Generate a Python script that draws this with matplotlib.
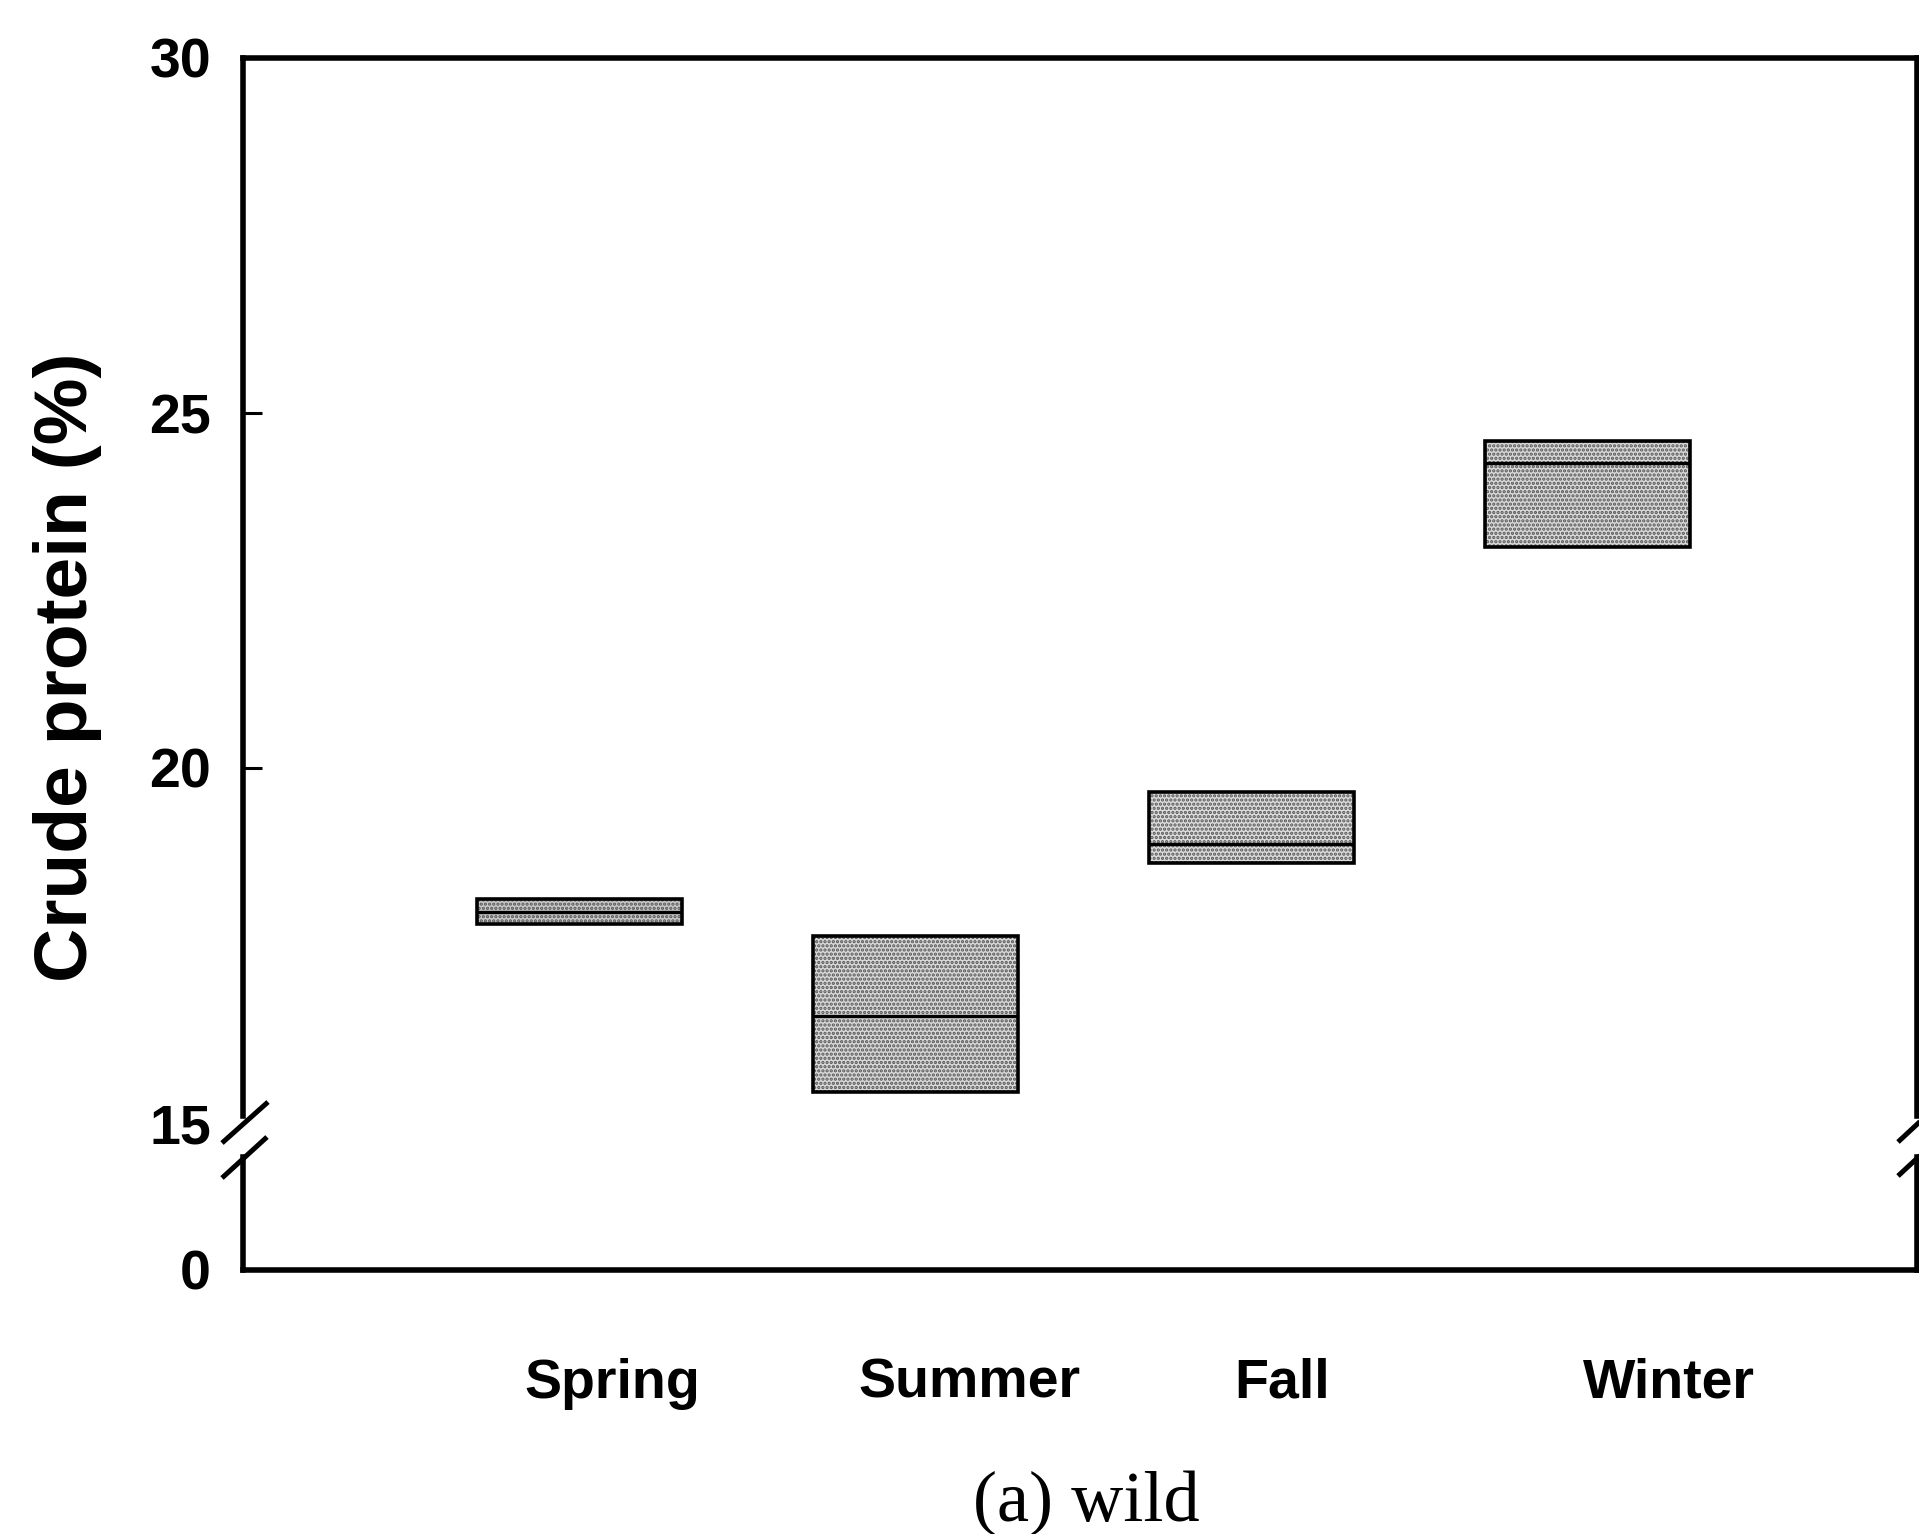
import matplotlib
matplotlib.use("Agg")
import matplotlib.pyplot as plt
from matplotlib.lines import Line2D
from matplotlib.transforms import ScaledTranslation

# ---- data ----
seasons = ["Spring", "Summer", "Fall", "Winter"]
q1 = [17.80, 15.44, 18.66, 23.11]
median = [17.97, 16.51, 18.93, 24.30]
q3 = [18.15, 17.63, 19.66, 24.61]
upper_ticks = [15, 20, 25, 30]
lower_ticks = [0]

# ---- layout ----
W, H = 1919, 1534
plt.rcParams['hatch.linewidth'] = 1.6
fig = plt.figure(figsize=(W / 100, H / 100), dpi=100)
plt.rcParams['font.family'] = ['Liberation Sans', 'DejaVu Sans']

def fx(px):
    return px / W

def fy(py):
    return 1 - py / H

left_px, right_px = 243, 1917
top_px, brk_px = 58, 1123
low_top_px, low_bot_px = 1157, 1270

ax = fig.add_axes([fx(left_px), fy(brk_px), fx(right_px - left_px), (brk_px - top_px) / H])
ax2 = fig.add_axes([fx(left_px), fy(low_bot_px), fx(right_px - left_px), (low_bot_px - low_top_px) / H])

positions = list(range(1, len(seasons) + 1))
heights = [b - a for a, b in zip(q1, q3)]
faces = ['#c8c8c8', '#d8d8d8', '#dcdcdc', '#d8d8d8']
# stippled fill
ax.bar(positions, heights, bottom=q1, width=0.61, color=faces,
       edgecolor='#555555', linewidth=0, hatch='....', zorder=2)
# outline
ax.bar(positions, heights, bottom=q1, width=0.61, fill=False,
       edgecolor='black', linewidth=2.6, zorder=3)
ax.hlines(median, [p - 0.305 for p in positions], [p + 0.305 for p in positions],
          colors='black', linewidth=2.4, zorder=4)

spine_lw = 4.0
for a in (ax, ax2):
    a.set_xlim(0, 4.98)
    for s in a.spines.values():
        s.set_linewidth(spine_lw)

ax.set_ylim(15, 30)
ax.spines['bottom'].set_visible(False)
ax.spines['left'].set_bounds(15.1, 30)
ax.spines['right'].set_bounds(15.1, 30)
ax.set_yticks(upper_ticks)
ax.set_yticklabels([str(t) for t in upper_ticks])
ax.tick_params(axis='y', direction='in', length=14, width=2.2, pad=23,
               labelsize=40)
ax.tick_params(axis='x', bottom=False, labelbottom=False)
ax.yaxis.get_major_ticks()[0].tick1line.set_visible(False)
for lab in ax.get_yticklabels():
    lab.set_fontweight('bold')

ax2.set_ylim(0, 1)
ax2.spines['top'].set_visible(False)
ax2.set_yticks(lower_ticks)
ax2.set_yticklabels([str(t) for t in lower_ticks])
ax2.tick_params(axis='y', direction='in', length=0, pad=23, labelsize=40)
ax2.set_xticks(positions)
ax2.set_xticklabels(seasons)
ax2.tick_params(axis='x', length=0, pad=63, labelsize=40)
offsets_px = [33, 54, 31, 81]
for lab, off in zip(ax2.get_xticklabels(), offsets_px):
    lab.set_fontweight('bold')
    lab.set_transform(lab.get_transform() + ScaledTranslation(off / 100, 0, fig.dpi_scale_trans))
for lab in ax2.get_yticklabels():
    lab.set_fontweight('bold')

# break marks
def seg(x0, y0, x1, y1):
    fig.add_artist(Line2D([fx(x0), fx(x1)], [fy(y0), fy(y1)], color='black',
                          linewidth=3.6, transform=fig.transFigure, solid_capstyle='butt'))

seg(222, 1143, 268, 1102)
seg(222, 1178, 267, 1137)
seg(1898, 1142, 1926, 1116)
seg(1898, 1176, 1926, 1150)

fig.text(fx(67), fy(667), "Crude protein (%)", rotation=90, ha='center', va='center',
         fontsize=54, fontweight='bold')
fig.text(fx(1086), fy(1521), "(a) wild", ha='center', va='baseline',
         fontsize=52, family=['Liberation Serif', 'DejaVu Serif'])

fig.savefig("out.png", dpi=100)
